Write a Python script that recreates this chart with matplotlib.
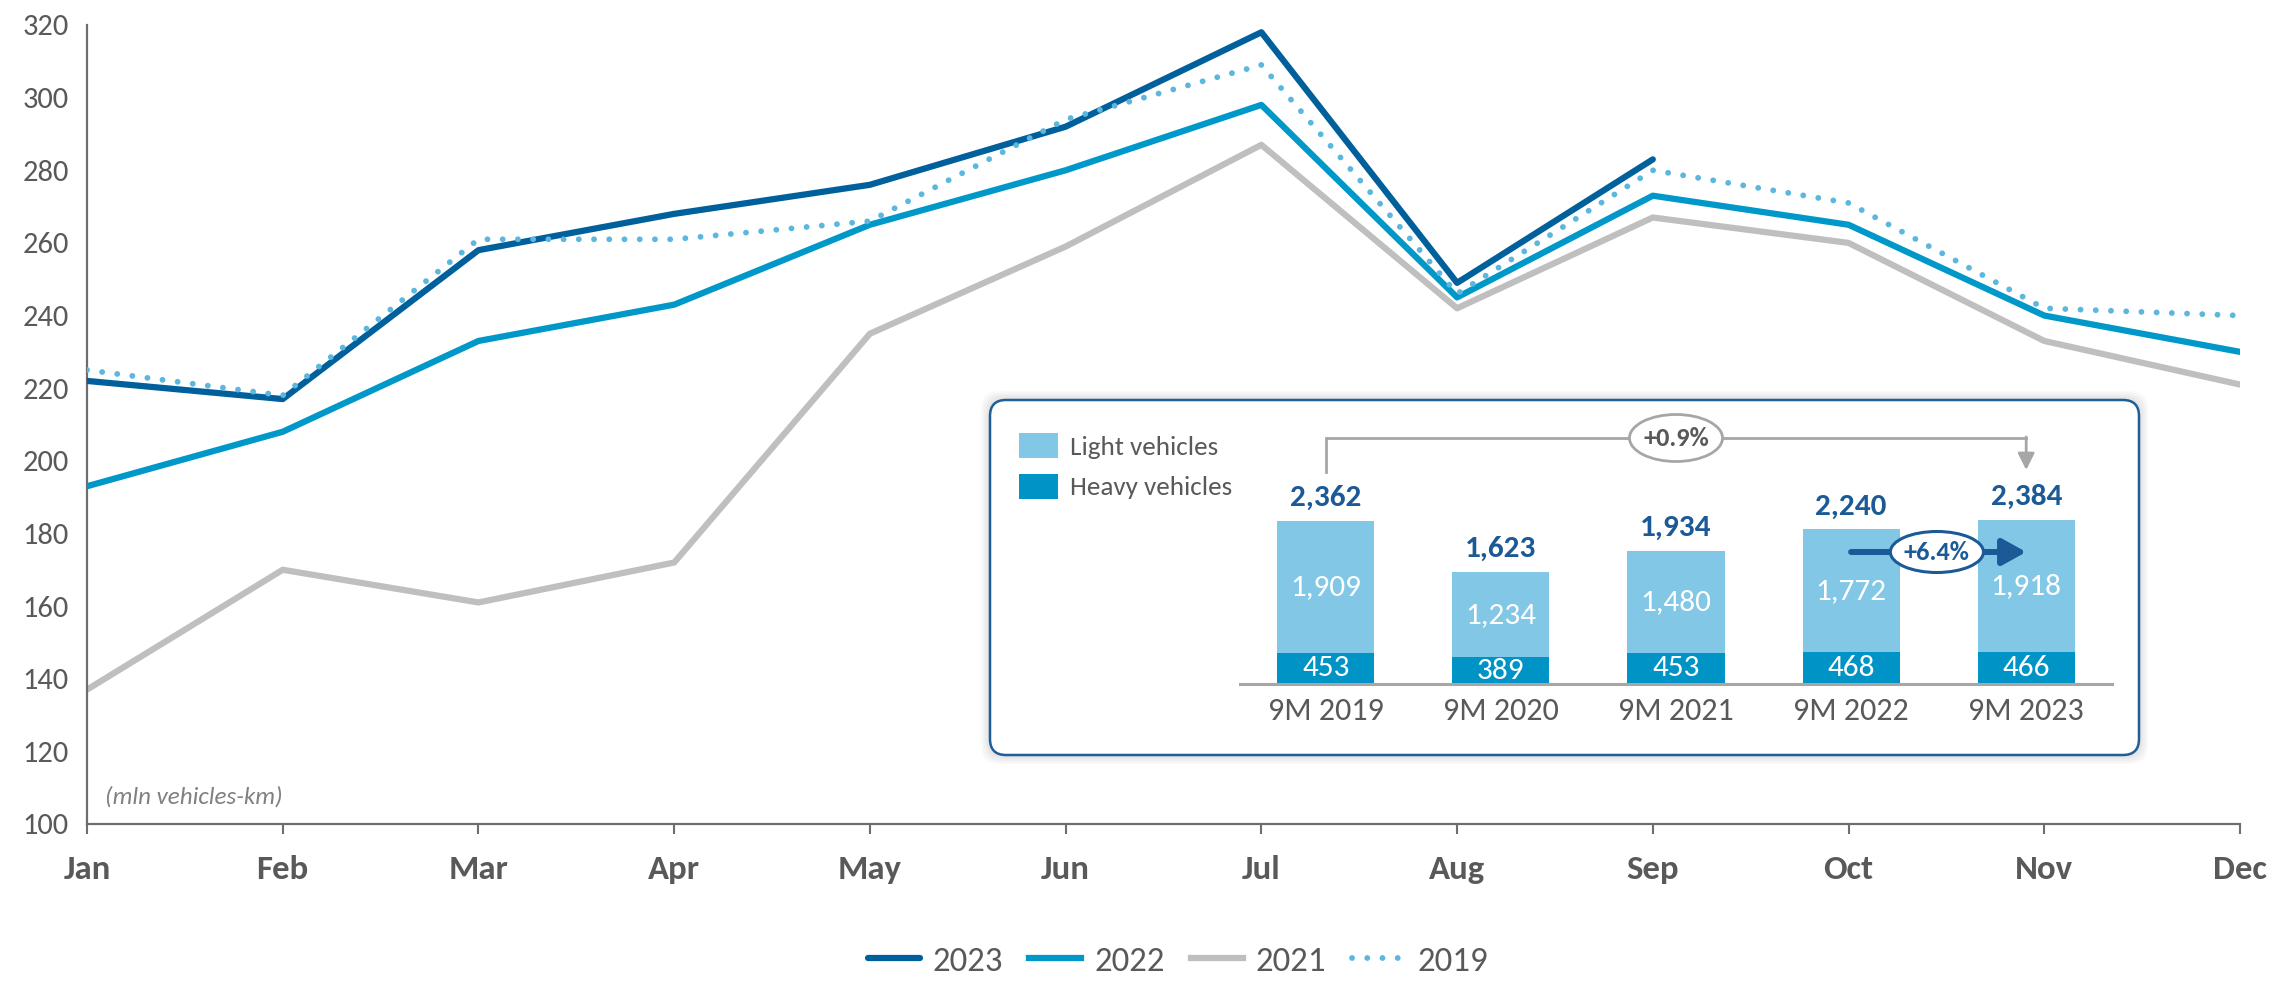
import numpy as np
import matplotlib
matplotlib.use('Agg')
import matplotlib.pyplot as plt
from matplotlib.patches import FancyBboxPatch, Ellipse

plt.rcParams['font.family'] = ['Carlito', 'Lato', 'DejaVu Sans']

###########################################################
###              Data
###########################################################
months = ['Jan', 'Feb', 'Mar', 'Apr', 'May', 'Jun', 'Jul', 'Aug', 'Sep', 'Oct', 'Nov', 'Dec']
traffic_2023 = [222, 217, 258, 268, 276, 292, 318, 249, 283]
traffic_2022 = [193, 208, 233, 243, 265, 280, 298, 245, 273, 265, 240, 230]
traffic_2021 = [137, 170, 161, 172, 235, 259, 287, 242, 267, 260, 233, 221]
traffic_2019 = [225, 218, 261, 261, 266, 294, 309, 246, 280, 271, 242, 240]

periods = ['9M 2019', '9M 2020', '9M 2021', '9M 2022', '9M 2023']
heavy = [453, 389, 453, 468, 466]
light = [1909, 1234, 1480, 1772, 1918]
totals = [2362, 1623, 1934, 2240, 2384]
growth_long = '+0.9%'
growth_short = '+6.4%'

###########################################################
###              Style
###########################################################
C2023 = '#00609C'
C2022 = '#0097C9'
C2021 = '#BFBFBF'
C2019 = '#5BB7DE'
C_LIGHT = '#82C8E6'
C_HEAVY = '#0093C6'
C_NAVY = '#1B5A96'
C_TEXT = '#595959'
C_AXIS = '#6E6E6E'
C_BRACKET = '#A6A6A6'

W, H = 2274, 981
PX_PER_UNIT = 0.069   # inset bar scale, pixels per mln vehicles-km

fig = plt.figure(figsize=(W / 100, H / 100), dpi=100)

def fx(px):
    return px / W

def fy(py):  # py measured from the top
    return 1 - py / H

def inset_y(py):  # pixel row -> inset data value
    return (684 - py) / PX_PER_UNIT

# main line chart
ax = fig.add_axes([fx(87), fy(824), fx(2240 - 87), (824 - 25) / H])
x = np.arange(len(months))
ax.plot(x, traffic_2021, color=C2021, lw=4.5, label='2021', zorder=2)
ax.plot(x, traffic_2022, color=C2022, lw=4.5, label='2022', zorder=3)
ax.plot(np.arange(len(traffic_2023)), traffic_2023, color=C2023, lw=4.5,
        solid_capstyle='round', label='2023', zorder=4)
ax.plot(x, traffic_2019, color=C2019, lw=4.2, ls=(0, (0.01, 2.6)),
        dash_capstyle='round', label='2019', zorder=5)

ax.set_xlim(0, 11)
ax.set_ylim(100, 320)
ax.set_yticks(np.arange(100, 321, 20))
ax.set_xticks(x)
ax.set_xticklabels(months, fontsize=25, fontweight='bold', color=C_TEXT)
ax.tick_params(axis='y', length=0, pad=13, labelsize=22, labelcolor=C_TEXT)
ax.tick_params(axis='x', length=7, width=1.5, color=C_AXIS, pad=15)
for s in ['top', 'right']:
    ax.spines[s].set_visible(False)
for s in ['left', 'bottom']:
    ax.spines[s].set_color(C_AXIS)
    ax.spines[s].set_linewidth(1.6)

ax.text(0.09, 107.4, '(mln vehicles-km)', fontsize=18, style='italic',
        color='#808080', va='center', ha='left')

order = ['2023', '2022', '2021', '2019']
hs, ls = ax.get_legend_handles_labels()
lookup = dict(zip(ls, hs))
fig.legend([lookup[k] for k in order], order, loc='center',
           bbox_to_anchor=(0.518, 0.02), ncol=4, frameon=False,
           fontsize=25, handlelength=1.5, handletextpad=0.38,
           columnspacing=0.74, labelcolor=C_TEXT)

# inset box with a soft shadow
box_l, box_r, box_t, box_b = 987, 2142, 397, 758
ax_box = fig.add_axes([fx(box_l), fy(box_b), fx(box_r - box_l), (box_b - box_t) / H])
ax_box.set_xlim(0, box_r - box_l)
ax_box.set_ylim(0, box_b - box_t)
ax_box.axis('off')
for k in range(6, 0, -1):
    ax_box.add_patch(FancyBboxPatch((3, 3), box_r - box_l - 6, box_b - box_t - 6,
                                    boxstyle=f'round,pad={k * 1.5},rounding_size=18',
                                    facecolor='#000000', edgecolor='none',
                                    alpha=0.018, clip_on=False))
ax_box.add_patch(FancyBboxPatch((3, 3), box_r - box_l - 6, box_b - box_t - 6,
                                boxstyle='round,pad=0,rounding_size=16',
                                facecolor='white', edgecolor='#1F5F99', lw=1.8))

# stacked bars in the inset
ax_bar = fig.add_axes([fx(1240), fy(684), fx(2112 - 1240), (684 - 400) / H])
ax_bar.patch.set_visible(False)
xb = np.arange(len(periods))
bw = 0.555
b1 = ax_bar.bar(xb, heavy, width=bw, color=C_HEAVY, label='Heavy vehicles')
b2 = ax_bar.bar(xb, light, width=bw, bottom=heavy, color=C_LIGHT, label='Light vehicles')
ax_bar.set_xlim(-0.49, 4.49)
ax_bar.set_ylim(0, inset_y(400))
for s in ['top', 'right', 'left']:
    ax_bar.spines[s].set_visible(False)
ax_bar.spines['bottom'].set_color(C_BRACKET)
ax_bar.spines['bottom'].set_linewidth(2.2)
ax_bar.set_yticks([])
ax_bar.set_xticks(xb)
ax_bar.set_xticklabels(periods, fontsize=23, color=C_TEXT)
ax_bar.tick_params(axis='x', length=0, pad=9)

for i in range(len(periods)):
    ax_bar.text(xb[i], heavy[i] / 2, f'{heavy[i]:,}', ha='center', va='center',
                color='white', fontsize=22.5)
    ax_bar.text(xb[i], heavy[i] + light[i] / 2, f'{light[i]:,}', ha='center',
                va='center', color='white', fontsize=22.5)
    ax_bar.annotate(f'{totals[i]:,}', (xb[i], heavy[i] + light[i]),
                    xytext=(0, 16.5), textcoords='offset points', ha='center',
                    va='center', color=C_NAVY, fontsize=22.5, fontweight='bold')

# +0.9% bracket from first to last period
y_br = inset_y(438)
ax_bar.plot([0, 0, 4], [inset_y(472), y_br, y_br], color=C_BRACKET, lw=2,
            solid_joinstyle='miter')
ax_bar.annotate('', xy=(4, inset_y(470)), xytext=(4, y_br + 15),
                arrowprops=dict(arrowstyle='-|>,head_length=0.5,head_width=0.25',
                                mutation_scale=20, color=C_BRACKET, lw=2,
                                shrinkA=0, shrinkB=0))
ax_bar.add_patch(Ellipse((2, y_br), 93 / 175, 47 / PX_PER_UNIT, facecolor='white',
                         edgecolor=C_BRACKET, lw=2, zorder=5))
ax_bar.text(2, y_br, growth_long, ha='center', va='center', fontsize=19,
            fontweight='bold', color=C_TEXT, zorder=6)

# +6.4% arrow between last two periods
y_ar = inset_y(552)
ax_bar.annotate('', xy=(4, y_ar), xytext=(3, y_ar),
                arrowprops=dict(arrowstyle='-|>,head_length=0.72,head_width=0.4',
                                mutation_scale=20, color=C_NAVY, lw=4.3,
                                shrinkA=0, shrinkB=0),
                zorder=5)
ax_bar.add_patch(Ellipse((3.49, y_ar), 93 / 175, 41 / PX_PER_UNIT, facecolor='white',
                         edgecolor=C_NAVY, lw=2.2, zorder=6))
ax_bar.text(3.49, y_ar, growth_short, ha='center', va='center', fontsize=19,
            fontweight='bold', color=C_NAVY, zorder=7)

ax_bar.legend([b2, b1], ['Light vehicles', 'Heavy vehicles'], loc='upper left',
              bbox_to_anchor=(fx(1019), fy(433)), bbox_transform=fig.transFigure,
              frameon=False, fontsize=19.5, handlelength=1.45, handleheight=1.04,
              handletextpad=0.42, labelspacing=0.55, borderpad=0, borderaxespad=0,
              labelcolor=C_TEXT)

fig.savefig('out.png', dpi=100)
